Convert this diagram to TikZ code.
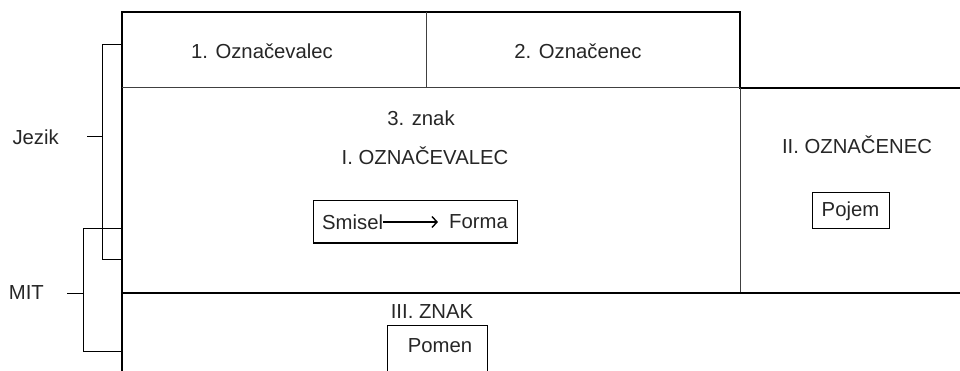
\documentclass[tikz,border=0pt]{standalone}
\usepackage{fontspec}
\setmainfont{Liberation Sans}
\usetikzlibrary{arrows.meta}
\begin{document}
\begin{tikzpicture}[x=1pt,y=-1pt,
  lbl/.style={inner sep=0pt,text=black!85,font=\fontsize{20.3}{23}\selectfont},
  heavy/.style={line width=2pt,black},
  fine/.style={line width=1pt,black!75},
  bracket/.style={line width=1pt,black},
  framebox/.style={draw=black,line width=1pt,inner sep=0pt}]
\useasboundingbox (0,0) rectangle (960,371);

% outer frame of the scheme
\draw[heavy] (122,371) -- (122,12) -- (740,12) -- (740,88) -- (960,88);
\draw[fine] (122,88) -- (740,88);
\draw[fine] (426,12) -- (426,88);
\draw[fine] (740,88) -- (740,293);
\draw[line width=1.2pt,black] (122,293) -- (960,293);

% first level
\node[lbl] (oznacevalec) at (262,51) {1. Označevalec};
\node[lbl] (oznacenec) at (578,51) {2. Označenec};
\node[lbl] (znak) at (421,118) {3. znak};
\node[lbl] (bigoznacevalec) at (425,156) {I. OZNAČEVALEC};

% Smisel -> Forma
\node[framebox,minimum width=204pt,minimum height=42pt] (sfbox) at (415,222) {};
\node[lbl,anchor=west] (smisel) at (322,222) {Smisel};
\node[lbl,anchor=east] (forma) at (508,222) {Forma};
\draw[line width=1.6pt,black,-{Straight Barb[length=5pt,width=11pt,line width=1.4pt]}] (smisel.east) -- ([xshift=-11pt]forma.west);

% second level
\node[lbl] (bigoznacenec) at (857,145) {II. OZNAČENEC};
\node[framebox,minimum width=77pt,minimum height=36pt] (pojembox) at (850.5,211) {};
\node[lbl] (pojem) at (pojembox) {Pojem};

% third level
\node[lbl] (bigznak) at (432,312) {III. ZNAK};
\node[lbl] (pomen) at (440,346) {Pomen};
\draw[line width=1pt,black] (387,375) -- (387,325) -- (487,325) -- (487,375);

% brackets on the left
\node[lbl,anchor=east] (jezik) at (59,137) {Jezik};
\node[lbl,anchor=east] (mit) at (44,293) {MIT};
\coordinate (jtick) at (87,137);
\coordinate (mtick) at (67,293);
\draw[bracket] (122,45) -- (102,45) -- (102,259) -- (122,259);
\draw[bracket] (jtick) -- (102,137);
\draw[bracket] (122,229) -- (83,229) -- (83,351) -- (122,351);
\draw[bracket] (mtick) -- (83,293);
\end{tikzpicture}
\end{document}
